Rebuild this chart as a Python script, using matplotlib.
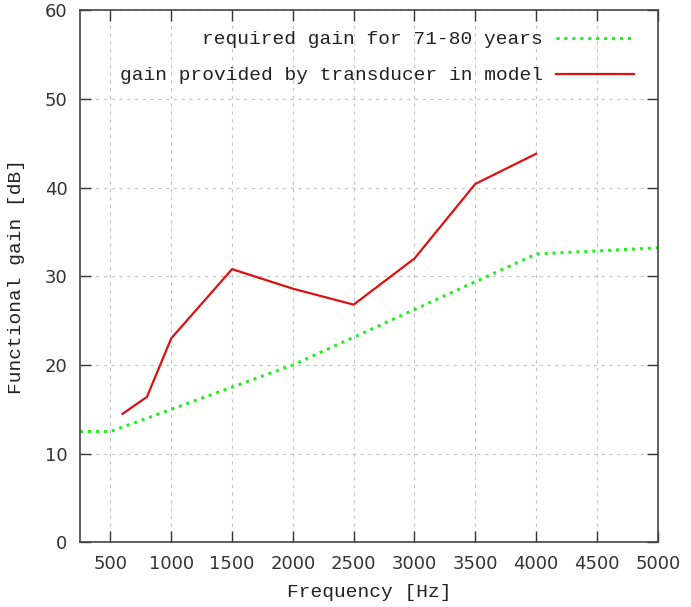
import matplotlib
matplotlib.use("Agg")
import matplotlib.pyplot as plt

# Data
req_freq = [250, 500, 1000, 2000, 4000, 5000]
req_gain = [12.5, 12.5, 15.0, 20.0, 32.5, 33.2]
mod_freq = [600, 800, 1000, 1500, 2000, 2500, 3000, 3500, 4000]
mod_gain = [14.5, 16.4, 23.0, 30.8, 28.6, 26.8, 32.0, 40.4, 43.8]
xticks = [500, 1000, 1500, 2000, 2500, 3000, 3500, 4000, 4500, 5000]
yticks = [0, 10, 20, 30, 40, 50, 60]

fig = plt.figure(figsize=(6.91, 6.07), dpi=100)
ax = fig.add_axes([0.1158, 0.1063, 0.836, 0.8772])

ax.plot(req_freq, req_gain, color="#22ee22", linestyle=(0, (1, 1.6)), linewidth=2.2,
        label="required gain for 71-80 years")
ax.plot(mod_freq, mod_gain, color="#dd1111", linewidth=1.6,
        label="gain provided by transducer in model")

ax.set_xlim(250, 5000)
ax.set_ylim(0, 60)
ax.set_xticks(xticks)
ax.set_yticks(yticks)
ax.tick_params(direction="in", length=8, width=1, top=True, right=True,
               labelsize=13, pad=9, colors="#333333", labelcolor="#333333")
for lab in ax.get_xticklabels() + ax.get_yticklabels():
    lab.set_family("DejaVu Sans")
for s in ax.spines.values():
    s.set_color("#444444")
    s.set_linewidth(1.2)
ax.grid(True, color="#c4c4c4", linestyle=(0, (3, 4)), linewidth=0.8)

mono = "Liberation Mono"
ax.set_xlabel("Frequency [Hz]", family=mono, fontsize=14, labelpad=8, color="#222222")
ax.set_ylabel("Functional gain [dB]", family=mono, fontsize=14, labelpad=14, color="#222222")

leg = ax.legend(loc="upper right", frameon=False, markerfirst=False,
                prop={"family": mono, "size": 14}, handlelength=4.0,
                labelspacing=0.95, handletextpad=0.67,
                bbox_to_anchor=(0.989, 0.994))
for t in leg.get_texts():
    t.set_color("#222222")

fig.savefig("out.png", dpi=100)
